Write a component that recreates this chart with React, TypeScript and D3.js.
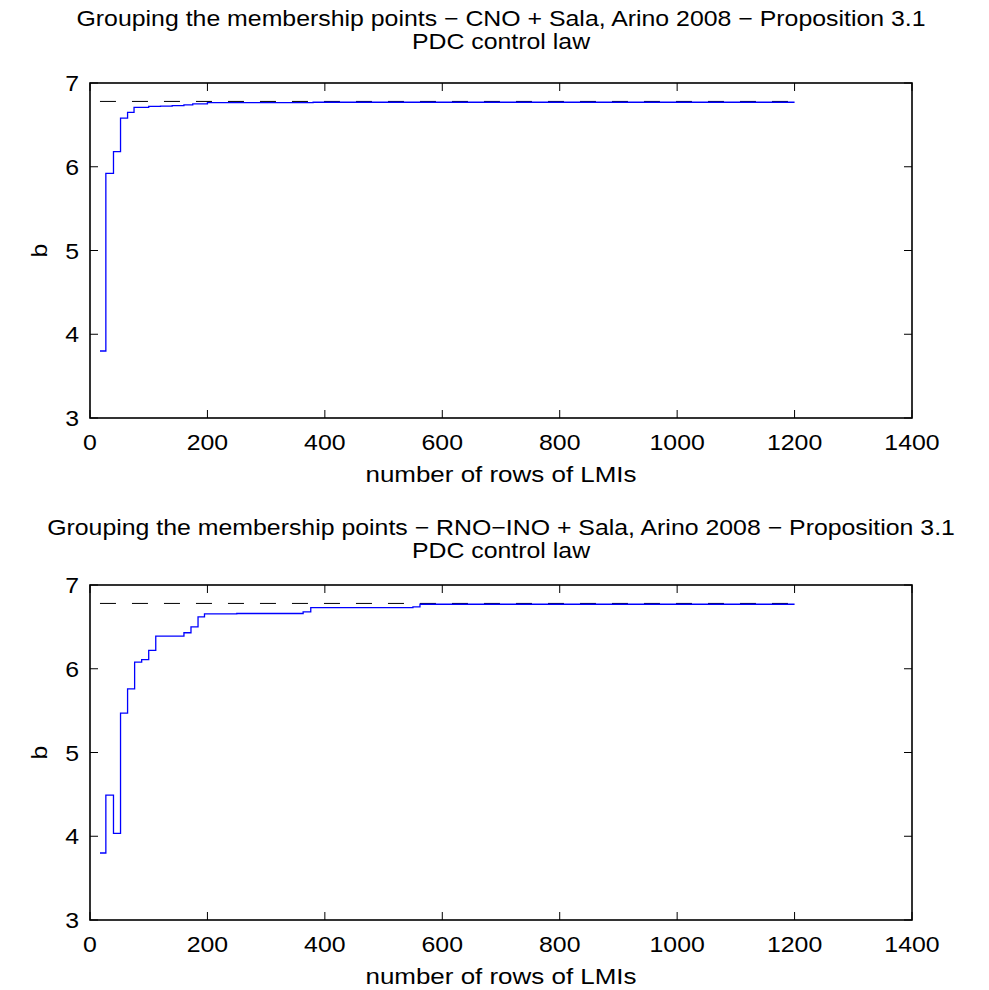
import React from 'react';
import * as d3 from 'd3';

const xTicks = [0, 200, 400, 600, 800, 1000, 1200, 1400];
const yTicks = [3, 4, 5, 6, 7];
const xDomain = [0, 1400];
const yDomain = [3, 7];
const refLevel = 6.78;
const refRows = [17, 1200];

const cnoRows = [17, 27, 40, 52, 64, 75, 100, 120, 140, 160, 175, 200, 380, 1200];
const cnoB = [3.8, 5.92, 6.18, 6.58, 6.65, 6.71, 6.72, 6.725, 6.73, 6.74, 6.75, 6.765, 6.77, 6.77];

const rnoRows = [17, 27, 40, 52, 64, 76, 88, 100, 112, 160, 172, 184, 195, 250, 363, 376, 550, 562, 1200];
const rnoB = [3.8, 4.49, 4.035, 5.47, 5.76, 6.08, 6.11, 6.22, 6.39, 6.43, 6.5, 6.62, 6.655, 6.66, 6.68, 6.73, 6.74, 6.77, 6.77];

const titlesLine1 = [
  'Grouping the membership points − CNO + Sala, Arino 2008 − Proposition 3.1',
  'Grouping the membership points − RNO−INO + Sala, Arino 2008 − Proposition 3.1',
];
const titleLine2 = 'PDC control law';
const xLabel = 'number of rows of LMIs';
const yLabel = 'b';

const W = 989;
const H = 990;
const left = 90;
const right = 912;
const panelTops = [83, 585];
const titleBaselines = [
  [26, 49],
  [535, 558],
];
const panelH = 335;
const font = '"Liberation Sans", Arial, Helvetica, sans-serif';
const tick = 8;

function T({
  x,
  y,
  children,
  anchor = 'middle',
  size = 22,
  sx = 1.13,
}: {
  x: number;
  y: number;
  children: React.ReactNode;
  anchor?: string;
  size?: number;
  sx?: number;
}) {
  return (
    <text
      transform={`translate(${x},${y}) scale(${sx},1)`}
      textAnchor={anchor as any}
      fontSize={size}
      fontFamily={font}
      fill="#000"
    >
      {children}
    </text>
  );
}

function Panel({
  top,
  rows,
  b,
  title,
  tb,
}: {
  top: number;
  rows: number[];
  b: number[];
  title: string;
  tb: number[];
}) {
  const x = d3.scaleLinear().domain(xDomain).range([left, right]);
  const y = d3.scaleLinear().domain(yDomain).range([top + panelH, top]);
  const pts: [number, number][] = rows.map((r, i) => [r, b[i]]);
  const line = d3
    .line<[number, number]>()
    .x((d) => x(d[0]))
    .y((d) => y(d[1]))
    .curve(d3.curveStepAfter);
  const bottom = top + panelH;
  const cx = (left + right) / 2;
  return (
    <g>
      <T x={cx} y={tb[0]}>{title}</T>
      <T x={cx} y={tb[1]}>{titleLine2}</T>
      <line
        x1={x(refRows[0])}
        x2={x(refRows[1])}
        y1={y(refLevel)}
        y2={y(refLevel)}
        stroke="#000"
        strokeWidth={1}
        strokeDasharray="16,16"
      />
      <path d={line(pts) || ''} fill="none" stroke="#0000ff" strokeWidth={1.3} />
      <rect x={left} y={top} width={right - left} height={panelH} fill="none" stroke="#000" strokeWidth={1.6} />
      {xTicks.map((t) => (
        <g key={'x' + t}>
          <line x1={x(t)} x2={x(t)} y1={bottom} y2={bottom - tick} stroke="#000" strokeWidth={1} />
          <line x1={x(t)} x2={x(t)} y1={top} y2={top + tick} stroke="#000" strokeWidth={1} />
          <T x={x(t)} y={bottom + 32}>{t}</T>
        </g>
      ))}
      {yTicks.map((t) => (
        <g key={'y' + t}>
          <line x1={left} x2={left + tick} y1={y(t)} y2={y(t)} stroke="#000" strokeWidth={1} />
          <line x1={right} x2={right - tick} y1={y(t)} y2={y(t)} stroke="#000" strokeWidth={1} />
          <T x={left - 11} y={y(t) + 8} anchor="end">{t}</T>
        </g>
      ))}
      <T x={cx} y={bottom + 64} sx={1.18}>{xLabel}</T>
      <text
        transform={`translate(${47},${(top + bottom) / 2}) rotate(-90) scale(1.13,1)`}
        textAnchor="middle"
        fontSize={22}
        fontFamily={font}
        fill="#000"
      >
        {yLabel}
      </text>
    </g>
  );
}

export default function App() {
  const series = [
    { rows: cnoRows, b: cnoB },
    { rows: rnoRows, b: rnoB },
  ];
  return (
    <svg
      width={W}
      height={H}
      viewBox={`0 0 ${W} ${H}`}
      style={{ position: 'absolute', left: 0, top: 0, background: '#fff' }}
    >
      <rect width={W} height={H} fill="#fff" />
      {series.map((s, i) => (
        <Panel
          key={i}
          top={panelTops[i]}
          rows={s.rows}
          b={s.b}
          title={titlesLine1[i]}
          tb={titleBaselines[i]}
        />
      ))}
    </svg>
  );
}
